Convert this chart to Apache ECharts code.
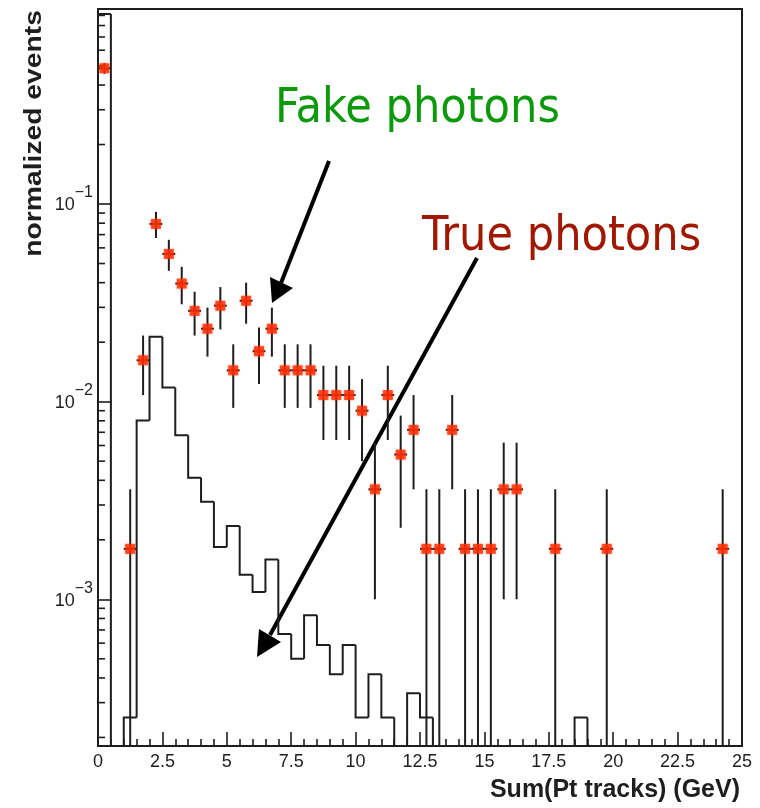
<!DOCTYPE html>
<html>
<head>
<meta charset="utf-8">
<script src="https://cdn.jsdelivr.net/npm/echarts@6/dist/echarts.min.js"></script>
<style>
  html, body { margin: 0; padding: 0; background: #ffffff; }
  #chart { width: 760px; height: 808px; }
</style>
</head>
<body>
<div id="chart"></div>
<script>
// Histogram binning: 0.5 GeV bins from 0 to 25 GeV
const BIN_WIDTH = 0.5;
const X_MIN = 0, X_MAX = 25;
const Y_MIN = 1.81e-4, Y_MAX = 0.97;

// True photons: normalized content of each 0.5 GeV bin (50 bins)
const trueValues = [
  0.914, 0, 2.52e-4, 0.00803, 0.0213, 0.0118, 0.00676, 0.00412, 0.00312, 0.00184,
  0.00235, 0.00133, 0.00109, 0.00159, 6.68e-4, 5.00e-4, 8.30e-4, 5.87e-4, 4.18e-4, 5.87e-4,
  2.52e-4, 4.18e-4, 2.52e-4, 0, 3.35e-4, 2.52e-4, 0, 0, 0, 0,
  0, 0, 0, 0, 0, 0, 0, 2.52e-4, 0, 0,
  0, 0, 0, 0, 0, 0, 0, 0, 0, 0
];

// Fake photons: bin centres, normalized contents and statistical errors
const fakeX = [0.25, 1.25, 1.75, 2.25, 2.75, 3.25, 3.75, 4.25, 4.75, 5.25,
  5.75, 6.25, 6.75, 7.25, 7.75, 8.25, 8.75, 9.25, 9.75, 10.25,
  10.75, 11.25, 11.75, 12.25, 12.75, 13.25, 13.75, 14.25, 14.75, 15.25,
  15.75, 16.25, 17.75, 19.75, 24.25];
const fakeY = [0.486, 0.0018, 0.0162, 0.0793, 0.0559, 0.0396, 0.0288, 0.0234, 0.0306, 0.0144,
  0.0324, 0.0180, 0.0234, 0.0144, 0.0144, 0.0144, 0.0108, 0.0108, 0.0108, 0.0090,
  0.0036, 0.0108, 0.0054, 0.0072, 0.0018, 0.0018, 0.0072, 0.0018, 0.0018, 0.0018,
  0.0036, 0.0036, 0.0018, 0.0018, 0.0018];
const fakeErr = [0.030, 0.0018, 0.0054, 0.0120, 0.0100, 0.0085, 0.0072, 0.0065, 0.0074, 0.0051,
  0.0076, 0.0057, 0.0065, 0.0051, 0.0051, 0.0051, 0.0044, 0.0044, 0.0044, 0.0040,
  0.0026, 0.0044, 0.0031, 0.0036, 0.0018, 0.0018, 0.0036, 0.0018, 0.0018, 0.0018,
  0.0026, 0.0026, 0.0018, 0.0018, 0.0018];

// Axis decorations
const xTickStep = 2.5;
const yDecades = [-4, -3, -2, -1, 0];
const yMinorMultipliers = [2, 3, 4, 5, 6, 7, 8, 9];

const AXIS_FONT = '"Liberation Sans", Arial, Helvetica, sans-serif';
const NOTE_FONT = '"DejaVu Sans Condensed", "DejaVu Sans", Verdana, sans-serif';
const INK = '#1e1e1e';

const clampY = v => (v > 0 ? Math.min(Math.max(v, Y_MIN), Y_MAX) : Y_MIN);

// histogram items: [low edge, high edge, content, previous content]
const histData = trueValues.map((v, i) => [
  X_MIN + i * BIN_WIDTH, X_MIN + (i + 1) * BIN_WIDTH, v, i > 0 ? trueValues[i - 1] : 0
]);
const pointData = fakeX.map((x, i) => [x, fakeY[i], fakeErr[i]]);

// log-spaced minor ticks on the y axis
const minorTickData = [];
yDecades.forEach(d => yMinorMultipliers.forEach(m => {
  const v = m * Math.pow(10, d);
  if (v > Y_MIN && v < Y_MAX) minorTickData.push([X_MIN, v]);
}));

const chart = echarts.init(document.getElementById('chart'), null, { renderer: 'canvas' });

chart.setOption({
  animation: false,
  backgroundColor: '#ffffff',
  grid: {
    left: 98, right: 18, top: 9, bottom: 62,
    show: true, borderColor: INK, borderWidth: 2, backgroundColor: 'transparent'
  },
  xAxis: {
    type: 'value', min: X_MIN, max: X_MAX, interval: xTickStep,
    axisLine: { show: true, onZero: false, lineStyle: { color: INK, width: 2 } },
    axisTick: { show: true, inside: true, length: 14, lineStyle: { color: INK, width: 1.6 } },
    minorTick: { show: true, splitNumber: 5, length: 7, lineStyle: { color: INK, width: 1.6 } },
    splitLine: { show: false },
    axisLabel: { color: INK, fontSize: 18, fontFamily: AXIS_FONT, margin: 7 }
  },
  yAxis: {
    type: 'log', logBase: 10, min: Y_MIN, max: Y_MAX, splitNumber: 4,
    axisLine: { show: true, lineStyle: { color: INK, width: 2 } },
    axisTick: { show: true, inside: true, length: 14, lineStyle: { color: INK, width: 1.6 } },
    splitLine: { show: false },
    axisLabel: {
      margin: 5,
      color: INK,
      fontFamily: AXIS_FONT,
      formatter: v => {
        const p = Math.log10(v);
        const r = Math.round(p);
        if (Math.abs(p - r) > 1e-6) return '';
        return '{b|10}{e|' + (r < 0 ? '\u2212' : '') + Math.abs(r) + '}';
      },
      rich: {
        b: { fontSize: 18, lineHeight: 38, verticalAlign: 'middle', padding: [3, 0, 0, 0],
             fontFamily: AXIS_FONT, color: INK },
        e: { fontSize: 16, lineHeight: 38, verticalAlign: 'top', fontFamily: AXIS_FONT, color: INK }
      }
    }
  },
  series: [
    {
      // y-axis minor ticks
      type: 'custom', silent: true, z: 3,
      data: minorTickData,
      renderItem: (params, api) => {
        const p = api.coord([api.value(0), api.value(1)]);
        return {
          type: 'line',
          shape: { x1: p[0], y1: p[1], x2: p[0] + 7, y2: p[1] },
          style: { stroke: INK, lineWidth: 1.6 }
        };
      }
    },
    {
      // true photons: step histogram outline
      name: 'True photons', type: 'custom', silent: true, z: 4,
      data: histData,
      renderItem: (params, api) => {
        const lo = api.value(0), hi = api.value(1);
        const yNow = api.coord([lo, clampY(api.value(2))])[1];
        const yPrev = api.coord([lo, clampY(api.value(3))])[1];
        const x0 = api.coord([lo, Y_MIN])[0];
        const x1 = api.coord([hi, Y_MIN])[0];
        return {
          type: 'polyline',
          shape: { points: [[x0, yPrev], [x0, yNow], [x1, yNow]] },
          style: { stroke: INK, lineWidth: 2, fill: null }
        };
      }
    },
    {
      // fake photons: error bars
      name: 'Fake photons errors', type: 'custom', silent: true, z: 5,
      data: pointData,
      renderItem: (params, api) => {
        const x = api.value(0), y = api.value(1), e = api.value(2);
        const top = api.coord([x, clampY(y + e)]);
        const bot = api.coord([x, clampY(y - e)]);
        const left = api.coord([x - BIN_WIDTH / 2, y]);
        const right = api.coord([x + BIN_WIDTH / 2, y]);
        return {
          type: 'group',
          children: [
            { type: 'line', shape: { x1: top[0], y1: top[1], x2: bot[0], y2: bot[1] },
              style: { stroke: INK, lineWidth: 2 } },
            { type: 'line', shape: { x1: left[0], y1: left[1], x2: right[0], y2: right[1] },
              style: { stroke: INK, lineWidth: 2 } }
          ]
        };
      }
    },
    {
      // fake photons: markers
      name: 'Fake photons', type: 'scatter', z: 6,
      symbol: 'rect', symbolSize: 10,
      itemStyle: { color: '#ff2a00', shadowBlur: 3, shadowColor: 'rgba(255,60,20,0.7)' },
      data: pointData.map(d => [d[0], d[1]])
    }
  ],
  graphic: [
    // axis titles
    {
      type: 'text', x: 46, y: 10, rotation: Math.PI / 2, scaleX: 1.23,
      style: { text: 'normalized events', font: 'bold 23px ' + AXIS_FONT, fill: INK,
               textAlign: 'right', textVerticalAlign: 'bottom' }
    },
    {
      type: 'text', x: 740, y: 803,
      style: { text: 'Sum(Pt tracks) (GeV)', font: 'bold 25px ' + AXIS_FONT, fill: INK,
               textAlign: 'right', textVerticalAlign: 'bottom' }
    },
    // annotations
    {
      type: 'text', x: 275, y: 110,
      style: { text: 'Fake photons', font: '48px ' + NOTE_FONT, fill: '#0c990c',
               textAlign: 'left', textVerticalAlign: 'middle' }
    },
    {
      type: 'text', x: 422, y: 238,
      style: { text: 'True photons', font: '48px ' + NOTE_FONT, fill: '#a01800',
               textAlign: 'left', textVerticalAlign: 'middle' }
    },
    {
      type: 'line', shape: { x1: 329, y1: 161, x2: 281, y2: 283 },
      style: { stroke: '#000', lineWidth: 4 }
    },
    {
      type: 'polygon', shape: { points: [[272, 303], [270, 277], [293, 288]] },
      style: { fill: '#000' }
    },
    {
      type: 'line', shape: { x1: 477, y1: 258, x2: 270, y2: 635 },
      style: { stroke: '#000', lineWidth: 4 }
    },
    {
      type: 'polygon', shape: { points: [[257, 657], [259, 629], [281, 642]] },
      style: { fill: '#000' }
    }
  ]
});
</script>
</body>
</html>
